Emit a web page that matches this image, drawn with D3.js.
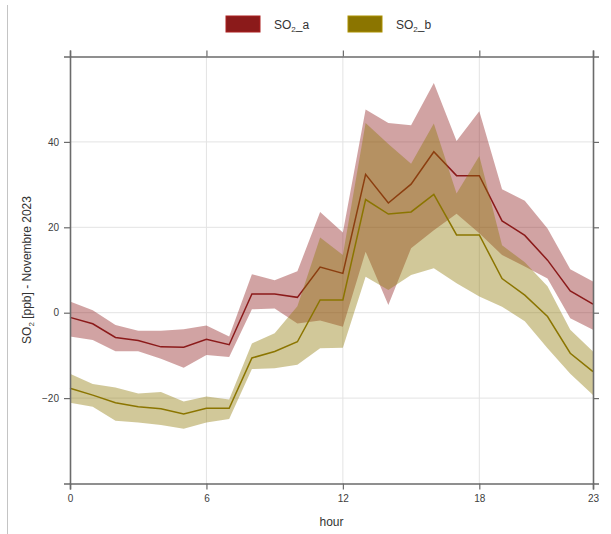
<!DOCTYPE html>
<html>
<head>
<meta charset="utf-8">
<script src="https://cdn.jsdelivr.net/npm/d3@7"></script>
<style>
  body { margin: 0; background: #fff; }
  svg { display: block; font-family: "Liberation Sans", Arial, sans-serif; }
</style>
</head>
<body>
<svg id="chart" width="611" height="534"></svg>
<script>
const hours = d3.range(0, 24);
const xTicks = [0, 6, 12, 18, 23];
const yTicks = [-20, 0, 20, 40];
const seriesNames = ["a", "b"];

const aMean  = [-1.1, -2.6, -5.8, -6.5, -8.0, -8.1, -6.2, -7.5, 4.4, 4.4, 3.6, 10.7, 9.2, 32.4, 25.7, 30.1, 37.7, 32.1, 32.1, 21.5, 18.1, 12.3, 5.1, 2.0];
const aUpper = [2.6, 0.6, -2.9, -4.2, -4.2, -3.9, -3.0, -5.6, 9.0, 7.6, 9.7, 23.6, 18.8, 47.6, 44.4, 43.9, 53.8, 40.2, 47.2, 28.9, 26.2, 19.7, 10.2, 7.3];
const aLower = [-5.6, -6.4, -9.0, -9.0, -10.8, -12.9, -9.9, -10.4, 0.8, 1.0, -2.5, -1.8, -3.3, 14.3, 1.8, 15.1, 19.3, 23.2, 18.6, 13.5, 10.8, 8.0, -1.3, -4.0];

const bMean  = [-17.7, -19.3, -21.1, -22.0, -22.5, -23.7, -22.4, -22.4, -10.6, -9.1, -6.8, 3.0, 3.0, 26.5, 23.1, 23.6, 27.7, 18.2, 18.2, 8.0, 4.1, -0.9, -9.5, -13.8];
const bUpper = [-14.3, -16.7, -17.5, -18.9, -18.6, -20.8, -19.6, -20.3, -7.2, -4.8, 1.5, 17.6, 13.5, 44.4, 39.5, 34.9, 44.3, 27.9, 36.7, 15.8, 11.8, 6.2, -4.0, -9.1];
const bLower = [-21.1, -22.0, -25.3, -25.7, -26.3, -27.2, -25.7, -24.9, -13.2, -13.0, -12.2, -8.3, -8.2, 8.4, 5.3, 8.8, 10.4, 6.9, 3.8, 1.4, -2.0, -8.3, -14.3, -19.3];

const colors = { a: "#8b1a1a", b: "#8b7500" };

const svg = d3.select("#chart");
const mLeft = 70, mRight = 593, mTop = 56.5, mBottom = 483.5;

const x = d3.scaleLinear().domain([0, 23]).range([mLeft, mRight]);
const y = d3.scaleLinear().domain([-40, 60]).range([mBottom, mTop]);

// outer page line
svg.append("line").attr("x1", 7.5).attr("x2", 7.5).attr("y1", 5).attr("y2", 534)
  .attr("stroke", "#c4c4c4").attr("stroke-width", 1);

// grid
const grid = svg.append("g");
grid.selectAll(".gx").data([6, 12, 18]).join("line")
  .attr("x1", d => x(d)).attr("x2", d => x(d)).attr("y1", mTop).attr("y2", mBottom)
  .attr("stroke", "#e3e3e3").attr("stroke-width", 1);
grid.selectAll(".gy").data(yTicks).join("line")
  .attr("x1", mLeft).attr("x2", mRight).attr("y1", d => y(d)).attr("y2", d => y(d))
  .attr("stroke", "#e3e3e3").attr("stroke-width", 1);

const series = {
  a: hours.map((h, i) => ({ h, m: aMean[i], lo: aLower[i], hi: aUpper[i] })),
  b: hours.map((h, i) => ({ h, m: bMean[i], lo: bLower[i], hi: bUpper[i] }))
};

const area = d3.area().x(d => x(d.h)).y0(d => y(d.lo)).y1(d => y(d.hi));
const line = d3.line().x(d => x(d.h)).y(d => y(d.m));

seriesNames.forEach(k => {
  svg.append("path").datum(series[k]).attr("d", area)
    .attr("fill", colors[k]).attr("fill-opacity", 0.4);
  svg.append("path").datum(series[k]).attr("d", line)
    .attr("fill", "none").attr("stroke", colors[k]).attr("stroke-width", 1.5);
});

// axes
function styleAxis(g) {
  g.select(".domain").attr("stroke", "#6b6b6b").attr("stroke-width", 1.6);
  g.selectAll(".tick line").attr("stroke", "#6b6b6b").attr("stroke-width", 1.2);
  g.selectAll(".tick text").attr("fill", "#404040").attr("font-size", "10px")
    .attr("font-family", "Liberation Sans, Arial, sans-serif");
}
svg.append("g").attr("transform", `translate(0,${mBottom})`)
  .call(d3.axisBottom(x).tickValues(xTicks).tickSize(6).tickPadding(5).tickFormat(d3.format("d")))
  .call(styleAxis);
svg.append("g").attr("transform", `translate(0,${mTop})`)
  .call(d3.axisTop(x).tickValues(xTicks).tickSize(6).tickFormat(""))
  .call(styleAxis);
svg.append("g").attr("transform", `translate(${mLeft},0)`)
  .call(d3.axisLeft(y).tickValues(yTicks).tickSize(6).tickPadding(5).tickFormat(d3.format("d")))
  .call(styleAxis);
svg.append("g").attr("transform", `translate(${mRight},0)`)
  .call(d3.axisRight(y).tickValues(yTicks).tickSize(6).tickFormat(""))
  .call(styleAxis);

// axis titles
svg.append("text").attr("x", (mLeft + mRight) / 2).attr("y", 526)
  .attr("text-anchor", "middle").attr("font-size", "12px").attr("fill", "#333")
  .text("hour");

const yl = svg.append("text")
  .attr("transform", `translate(31,${(mTop + mBottom) / 2}) rotate(-90)`)
  .attr("text-anchor", "middle").attr("font-size", "12px").attr("fill", "#333");
yl.append("tspan").text("SO");
yl.append("tspan").attr("font-size", "8px").attr("dy", 3).text("2");
yl.append("tspan").attr("dy", -3).text(" [ppb] - Novembre 2023");

// legend
const legendX = [226, 348];
seriesNames.forEach((k, i) => {
  const g = svg.append("g").attr("transform", `translate(${legendX[i]},16)`);
  g.append("rect").attr("width", 34).attr("height", 16)
    .attr("fill", colors[k]).attr("stroke", d3.color(colors[k]).brighter(0.6)).attr("stroke-width", 1);
  const t = g.append("text").attr("x", 48).attr("y", 12.5).attr("font-size", "12px").attr("fill", "#333");
  t.append("tspan").text("SO");
  t.append("tspan").attr("font-size", "8px").attr("dy", 3).text("2");
  t.append("tspan").attr("dy", -3).text("_" + k);
});
</script>
</body>
</html>
